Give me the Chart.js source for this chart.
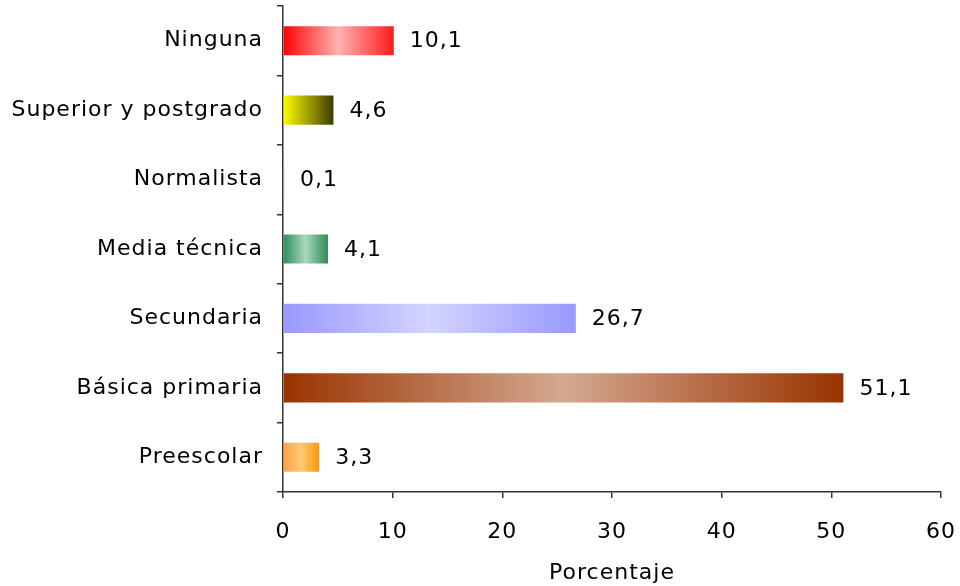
<!DOCTYPE html>
<html>
<head>
<meta charset="utf-8">
<script src="https://cdn.jsdelivr.net/npm/chart.js@4/dist/chart.umd.min.js"></script>
<style>
html,body{margin:0;padding:0;background:#fff;}
#wrap{width:960px;height:586px;position:relative;}
</style>
</head>
<body>
<div id="wrap"><canvas id="c" width="960" height="586"></canvas></div>
<script>
const categories = ["Ninguna","Superior y postgrado","Normalista","Media técnica","Secundaria","Básica primaria","Preescolar"];
const values = [10.1, 4.6, 0.1, 4.1, 26.7, 51.1, 3.3];
const xTicks = [0,10,20,30,40,50,60];
// gradient stops per bar: [left, middle, right]
const gradStops = [
  ["#ff0000","#ffb3b3","#ff1a1a"],
  ["#ffff00","#a0a000","#3c3c00"],
  ["#808080","#c0c0c0","#808080"],
  ["#2e8b57","#a8d8be","#2e8b57"],
  ["#9999ff","#d4d4ff","#9999ff"],
  ["#993300","#d4a890","#993300"],
  ["#ffa040","#ffc878","#ff9900"]
];

const FONT = "'DejaVu Sans', Verdana, sans-serif";
const FS = 22;
const LS = "1px";

function barGradient(ctx){
  const chart = ctx.chart;
  const {chartArea} = chart;
  if (!chartArea || ctx.type !== 'data') return gradStops[ctx.dataIndex||0][0];
  const xs = chart.scales.x;
  const i = ctx.dataIndex;
  const x0 = xs.getPixelForValue(0);
  const x1 = xs.getPixelForValue(values[i]);
  if (!(x1 > x0 + 0.5)) return gradStops[i][0];
  const g = chart.ctx.createLinearGradient(x0, 0, x1, 0);
  const s = gradStops[i];
  g.addColorStop(0, s[0]);
  g.addColorStop(0.5, s[1]);
  g.addColorStop(1, s[2]);
  return g;
}

const spacingPlugin = {
  id: 'letterSpacing',
  beforeDraw(chart){ chart.ctx.letterSpacing = LS; }
};

const labelPlugin = {
  id: 'valueLabels',
  afterDatasetsDraw(chart){
    const c = chart.ctx;
    const meta = chart.getDatasetMeta(0);
    c.save();
    c.letterSpacing = LS;
    c.font = FS + "px " + FONT;
    c.fillStyle = "#000";
    c.textAlign = "left";
    c.textBaseline = "middle";
    meta.data.forEach((el, i) => {
      c.fillText(values[i].toFixed(1).replace('.', ','), el.x + 16, el.y + 1);
    });
    c.restore();
  }
};

new Chart(document.getElementById('c'), {
  type: 'bar',
  data: {
    labels: categories,
    datasets: [{
      data: values,
      backgroundColor: barGradient,
      borderWidth: 0,
      barPercentage: 0.84,
      categoryPercentage: 0.5
    }]
  },
  options: {
    indexAxis: 'y',
    responsive: false,
    animation: false,
    devicePixelRatio: 1,
    layout: { padding: { top: 6, right: 19, left: 0, bottom: 0 } },
    plugins: { legend: { display: false }, tooltip: { enabled: false } },
    scales: {
      x: {
        min: 0, max: 60,
        afterBuildTicks(scale){ scale.ticks = xTicks.map(v => ({value: v})); },
        afterFit(scale){ scale.height = 94; scale.paddingLeft = 0; scale.paddingRight = 0; },
        border: { color: '#333', width: 1.5 },
        grid: { drawOnChartArea: false, drawTicks: true, tickLength: 6, color: '#333', lineWidth: 1.5 },
        ticks: { color: '#000', font: { family: FONT, size: FS }, padding: 21, maxRotation: 0 },
        title: { display: true, text: 'Porcentaje', color: '#000', font: { family: FONT, size: FS }, padding: { top: 6, bottom: 0 } }
      },
      y: {
        afterFit(scale){ scale.width = 283; scale.paddingTop = 0; scale.paddingBottom = 0; },
        border: { color: '#333', width: 1.5 },
        grid: { drawOnChartArea: false, drawTicks: true, tickLength: 6, color: '#333', lineWidth: 1.5, offset: true },
        ticks: { color: '#000', font: { family: FONT, size: FS }, padding: 14 }
      }
    }
  },
  plugins: [spacingPlugin, labelPlugin]
});
</script>
</body>
</html>
